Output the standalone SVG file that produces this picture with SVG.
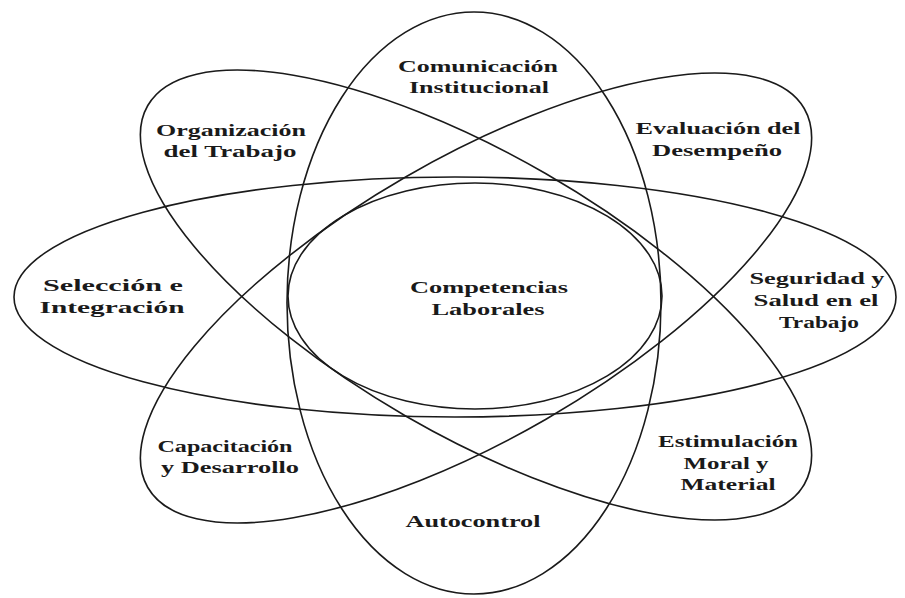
<svg xmlns="http://www.w3.org/2000/svg" width="905" height="598" viewBox="0 0 905 598">
<style>
.e{fill:none;stroke:#1a1a1a;stroke-width:1.6}
.t{font-family:"Liberation Serif","Times New Roman",serif;font-weight:bold;font-size:17px;fill:#1a1a1a;text-anchor:middle}
</style>
<rect width="905" height="598" fill="#ffffff"/>
<g id="ellipses">
<ellipse id="e-vertical" class="e" cx="474" cy="303" rx="187" ry="291"/>
<ellipse id="e-horizontal" class="e" cx="455" cy="297" rx="441" ry="120"/>
<ellipse id="e-diag-a" class="e" cx="0" cy="0" rx="379" ry="140" transform="translate(476 295) rotate(30)"/>
<ellipse id="e-diag-b" class="e" cx="0" cy="0" rx="379" ry="140" transform="translate(476 298) rotate(-30)"/>
</g>
<g id="competencias">
<ellipse class="e" cx="475" cy="296" rx="187" ry="113"/>
<text class="t" x="489" y="293" textLength="158" lengthAdjust="spacingAndGlyphs">Competencias</text>
<text class="t" x="488" y="315" textLength="113" lengthAdjust="spacingAndGlyphs">Laborales</text>
</g>
<g id="comunicacion">
<text class="t" x="478" y="72" textLength="160" lengthAdjust="spacingAndGlyphs">Comunicación</text>
<text class="t" x="479" y="93" textLength="140" lengthAdjust="spacingAndGlyphs">Institucional</text>
</g>
<g id="organizacion">
<text class="t" x="231" y="136" textLength="150" lengthAdjust="spacingAndGlyphs">Organización</text>
<text class="t" x="230" y="157" textLength="133" lengthAdjust="spacingAndGlyphs">del Trabajo</text>
</g>
<g id="evaluacion">
<text class="t" x="718" y="134" textLength="165" lengthAdjust="spacingAndGlyphs">Evaluación del</text>
<text class="t" x="717" y="156" textLength="130" lengthAdjust="spacingAndGlyphs">Desempeño</text>
</g>
<g id="seleccion">
<text class="t" x="113" y="291" textLength="140" lengthAdjust="spacingAndGlyphs">Selección e</text>
<text class="t" x="112" y="313" textLength="145" lengthAdjust="spacingAndGlyphs">Integración</text>
</g>
<g id="seguridad">
<text class="t" x="817" y="284" textLength="135" lengthAdjust="spacingAndGlyphs">Seguridad y</text>
<text class="t" x="816" y="306" textLength="125" lengthAdjust="spacingAndGlyphs">Salud en el</text>
<text class="t" x="819" y="328" textLength="80" lengthAdjust="spacingAndGlyphs">Trabajo</text>
</g>
<g id="capacitacion">
<text class="t" x="225" y="452" textLength="135" lengthAdjust="spacingAndGlyphs">Capacitación</text>
<text class="t" x="230" y="473" textLength="138" lengthAdjust="spacingAndGlyphs">y Desarrollo</text>
</g>
<g id="estimulacion">
<text class="t" x="728" y="447" textLength="140" lengthAdjust="spacingAndGlyphs">Estimulación</text>
<text class="t" x="726" y="469" textLength="85" lengthAdjust="spacingAndGlyphs">Moral y</text>
<text class="t" x="728" y="490" textLength="95" lengthAdjust="spacingAndGlyphs">Material</text>
</g>
<g id="autocontrol">
<text class="t" x="473" y="527" textLength="135" lengthAdjust="spacingAndGlyphs">Autocontrol</text>
</g>
</svg>
